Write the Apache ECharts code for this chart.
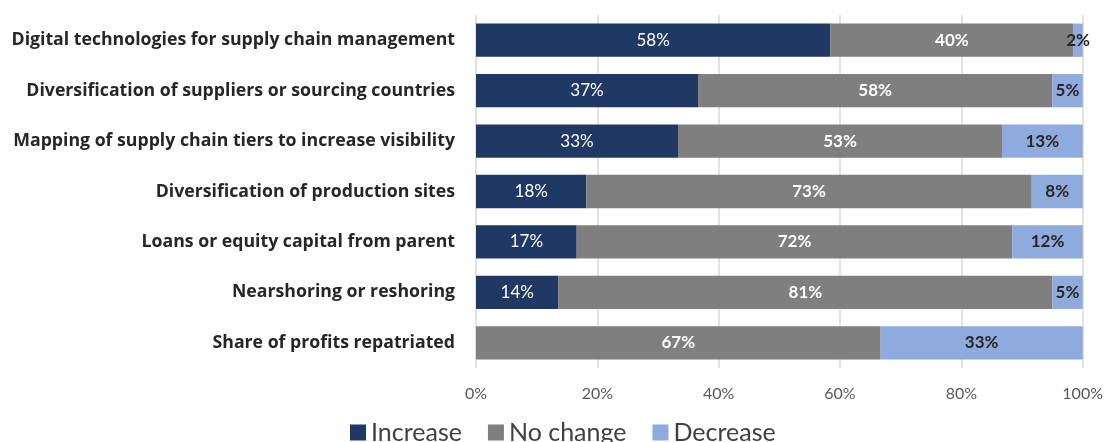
<!DOCTYPE html>
<html>
<head>
<meta charset="utf-8">
<script src="https://cdn.jsdelivr.net/npm/echarts@6/dist/echarts.min.js"></script>
<style>
  html, body { margin: 0; padding: 0; background: #fff; }
  #chart { width: 1106px; height: 442px; }
</style>
</head>
<body>
<div id="chart"></div>
<script>
// categories, top to bottom
const categories = [
  'Digital technologies for supply chain management',
  'Diversification of suppliers or sourcing countries',
  'Mapping of supply chain tiers to increase visibility',
  'Diversification of production sites',
  'Loans or equity capital from parent',
  'Nearshoring or reshoring',
  'Share of profits repatriated'
]
// share of respondents, %
const increase = [58.4, 36.6, 33.3, 18.2, 16.6, 13.6, 0]
const noChange = [40.1, 58.4, 53.4, 73.4, 71.8, 81.4, 66.7]
const decrease = [1.5, 5.0, 13.3, 8.4, 11.6, 5.0, 33.3]
const xTicks = [0, 20, 40, 60, 80, 100]

const font = 'Lato, "Open Sans", sans-serif'

const pctLabel = (p) => (p.value > 0 ? Math.round(p.value) + '%' : '')

function barSeries(name, data, color, labelColor, labelWeight) {
  return {
    name: name,
    type: 'bar',
    stack: 'total',
    barCategoryGap: '34%',
    itemStyle: { color: color },
    label: {
      show: true,
      position: 'inside',
      color: labelColor,
      fontFamily: font,
      fontSize: 17,
      fontWeight: labelWeight,
      formatter: pctLabel
    },
    data: data
  }
}

const chart = echarts.init(document.getElementById('chart'))
const option = {
  animation: false,
  textStyle: { fontFamily: font },
  grid: {
    left: 476,
    right: 23,
    top: 15,
    bottom: 74
  },
  legend: {
    bottom: -8,
    left: 345,
    icon: 'rect',
    itemWidth: 16,
    itemHeight: 16,
    itemGap: 26,
    textStyle: { fontSize: 25, color: '#404040', fontFamily: font },
    data: ['Increase', 'No change', 'Decrease']
  },
  xAxis: {
    type: 'value',
    min: 0,
    max: 100,
    interval: 20,
    axisLine: { show: false },
    axisTick: { show: false },
    splitLine: { show: true, lineStyle: { color: '#D9D9D9', width: 1.5 } },
    axisLabel: {
      margin: 18,
      fontSize: 16,
      color: '#595959',
      formatter: (v) => (xTicks.indexOf(v) >= 0 ? v + '%' : '')
    }
  },
  yAxis: {
    type: 'category',
    inverse: true,
    data: categories,
    axisLine: { show: false },
    axisTick: { show: false },
    axisLabel: {
      margin: 21,
      fontSize: 17.7,
      fontWeight: 'bold',
      fontFamily: '"Open Sans", sans-serif',
      color: '#262626'
    }
  },
  series: [
    barSeries('Increase', increase, '#203864', '#ffffff', 'normal'),
    barSeries('No change', noChange, '#7F7F7F', '#ffffff', 'bold'),
    barSeries('Decrease', decrease, '#8FAADC', '#262626', 'bold')
  ]
}
chart.setOption(option)
window.onresize = () => {
  chart.resize()
}
</script>
</body>
</html>
